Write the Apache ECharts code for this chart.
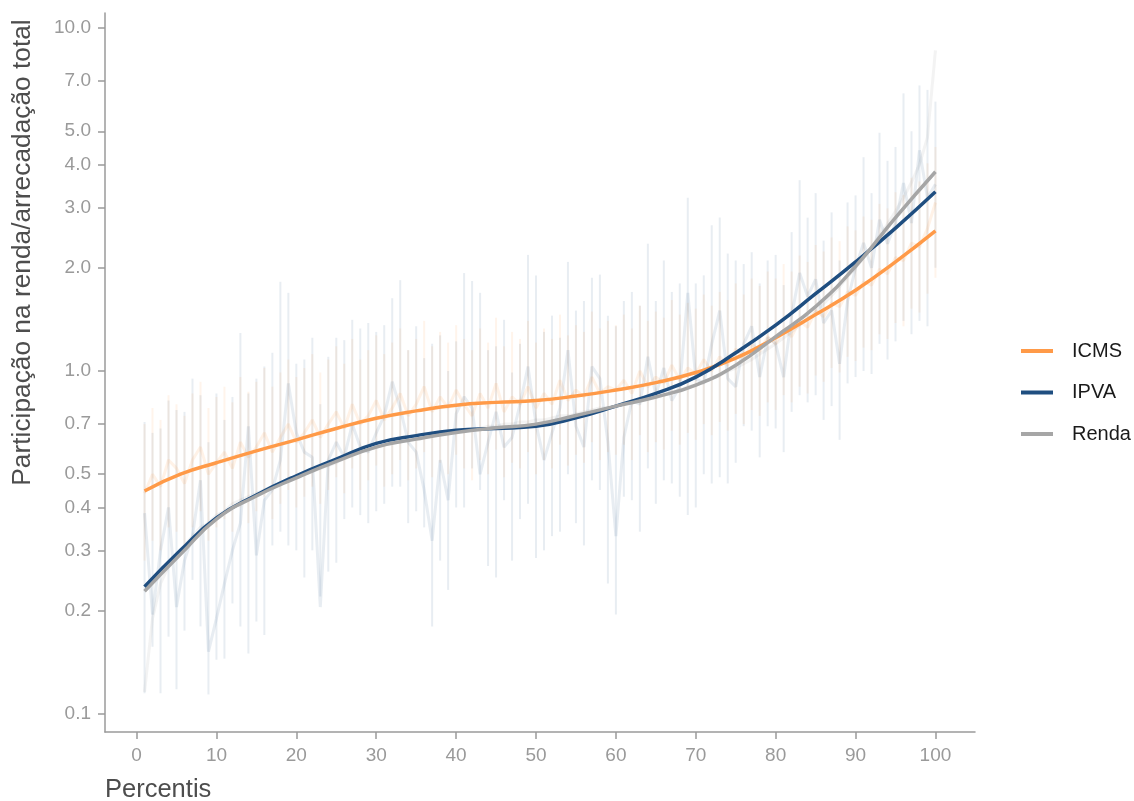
<!DOCTYPE html>
<html>
<head>
<meta charset="utf-8">
<script src="https://cdn.jsdelivr.net/npm/echarts@6/dist/echarts.min.js"></script>
<style>html,body{margin:0;padding:0;background:#fff;}#c{width:1134px;height:801px;}</style>
</head>
<body>
<div id="c"></div>
<script>
// ---- data ----
const PCT = Array.from({length:100},(_,i)=>i+1);
const SMOOTH_X = [1,5.5,10,15,20,25,30,35,40,45,50,55,60,65,70,75,80,85,90,95,100];
const ICMS_SMOOTH = [0.447,0.50,0.54,0.585,0.63,0.68,0.728,0.765,0.795,0.81,0.82,0.845,0.88,0.925,0.99,1.09,1.25,1.46,1.72,2.08,2.56];
const IPVA_SMOOTH = [0.235,0.30,0.373,0.435,0.495,0.553,0.615,0.648,0.672,0.68,0.69,0.73,0.79,0.86,0.96,1.13,1.36,1.68,2.08,2.61,3.33];
const RENDA_SMOOTH = [0.228,0.292,0.37,0.432,0.488,0.545,0.60,0.633,0.662,0.683,0.70,0.742,0.79,0.84,0.91,1.04,1.26,1.54,2.02,2.80,3.81];

const IPVA_RAW = [0.385,0.195,0.30,0.40,0.205,0.28,0.33,0.48,0.152,0.19,
0.24,0.30,0.36,0.69,0.29,0.42,0.45,0.55,0.92,0.66,
0.58,0.56,0.205,0.55,0.62,0.56,0.70,0.60,0.58,0.66,
0.74,0.93,0.78,0.62,0.58,0.45,0.32,0.55,0.42,0.75,
0.84,0.78,0.50,0.62,0.76,0.60,0.64,0.80,1.03,0.70,
0.55,0.66,0.78,1.15,0.69,0.60,1.03,0.95,0.62,0.33,
0.64,0.82,0.80,1.10,0.85,1.02,0.82,0.90,1.69,0.95,
0.92,1.20,1.50,0.95,0.90,1.20,1.35,0.96,1.25,1.20,
0.96,1.45,1.93,1.65,1.85,1.38,1.50,1.05,1.60,2.00,
2.36,2.00,2.76,2.35,2.70,3.53,2.70,4.40,3.20,3.50];

const ICMS_RAW = [0.44,0.50,0.46,0.55,0.52,0.47,0.55,0.60,0.50,0.54,
0.58,0.52,0.62,0.56,0.60,0.66,0.58,0.64,0.70,0.62,
0.66,0.72,0.64,0.70,0.76,0.68,0.80,0.70,0.74,0.82,
0.72,0.78,0.86,0.74,0.80,0.90,0.76,0.84,0.78,0.88,
0.80,0.74,0.86,0.78,0.92,0.76,0.84,0.80,0.90,0.78,
0.86,0.80,0.94,0.82,0.88,0.84,0.96,0.86,0.90,0.88,
0.94,0.86,1.00,0.90,0.96,0.92,1.04,0.94,1.02,0.98,
1.08,1.00,1.10,1.04,1.16,1.08,1.20,1.14,1.26,1.20,
1.32,1.26,1.40,1.34,1.50,1.44,1.58,1.54,1.70,1.66,
1.82,1.78,1.98,1.92,2.14,2.10,2.36,2.30,2.60,3.10];

const RENDA_RAW = [0.116,0.19,0.24,0.27,0.29,0.31,0.33,0.35,0.36,0.38,
0.39,0.41,0.42,0.43,0.44,0.45,0.46,0.47,0.48,0.49,
0.50,0.51,0.52,0.53,0.54,0.56,0.57,0.58,0.59,0.60,
0.61,0.62,0.62,0.63,0.64,0.64,0.65,0.66,0.66,0.67,
0.67,0.68,0.68,0.69,0.69,0.70,0.70,0.71,0.71,0.72,
0.72,0.73,0.74,0.74,0.75,0.76,0.77,0.78,0.78,0.79,
0.80,0.81,0.82,0.83,0.84,0.85,0.87,0.88,0.90,0.91,
0.93,0.95,0.97,1.00,1.02,1.05,1.08,1.12,1.16,1.20,
1.25,1.30,1.36,1.42,1.49,1.57,1.66,1.76,1.88,2.00,
2.14,2.30,2.48,2.68,2.92,3.20,3.55,4.00,4.80,8.60];

const IPVA_HI = [0.71,0.66,0.68,0.82,0.77,0.76,0.95,0.85,0.62,0.86,
0.72,0.84,1.29,0.86,0.95,1.03,1.13,1.82,1.69,1.05,
1.08,1.25,0.80,1.10,1.25,1.23,1.41,1.33,1.38,1.30,
1.36,1.63,1.84,1.15,1.35,1.09,1.20,1.27,1.00,1.22,
1.93,1.83,1.69,1.15,1.18,1.41,0.99,1.20,2.18,1.90,
1.30,1.45,1.25,2.08,1.50,1.60,1.87,1.91,1.45,1.35,
1.60,1.70,1.55,2.35,1.60,2.10,1.70,1.80,3.20,1.80,
1.90,2.66,2.80,2.20,2.10,2.05,2.22,1.80,2.10,2.18,
1.78,2.54,3.60,2.80,3.30,2.40,2.90,2.10,3.10,3.25,
4.20,3.30,4.95,4.10,4.50,6.45,5.00,6.80,6.60,6.10];

const IPVA_LO = [0.115,0.157,0.115,0.168,0.118,0.175,0.246,0.18,0.114,0.144,
0.145,0.21,0.18,0.15,0.186,0.17,0.31,0.34,0.31,0.30,
0.25,0.30,0.22,0.26,0.276,0.37,0.40,0.38,0.36,0.39,
0.41,0.46,0.46,0.36,0.39,0.35,0.18,0.28,0.23,0.40,
0.40,0.52,0.45,0.27,0.25,0.42,0.28,0.37,0.41,0.285,
0.30,0.33,0.34,0.50,0.36,0.31,0.48,0.45,0.24,0.195,
0.43,0.42,0.34,0.52,0.41,0.48,0.47,0.43,0.38,0.40,
0.50,0.47,0.49,0.47,0.54,0.69,0.67,0.56,0.69,0.68,
0.58,0.76,0.85,0.81,0.85,0.72,0.79,0.63,0.92,0.96,
1.00,0.98,1.20,1.08,1.22,1.40,1.28,1.40,1.35,2.00];

const ICMS_HI = [0.70,0.78,0.72,0.85,0.80,0.74,0.86,0.93,0.78,0.84,
0.90,0.81,0.96,0.87,0.93,1.02,0.90,0.99,1.08,0.96,
1.02,1.12,0.99,1.08,1.18,1.05,1.24,1.08,1.15,1.27,
1.12,1.21,1.33,1.15,1.24,1.40,1.18,1.30,1.21,1.36,
1.24,1.15,1.33,1.21,1.43,1.18,1.30,1.24,1.40,1.21,
1.33,1.24,1.46,1.27,1.36,1.30,1.49,1.33,1.40,1.36,
1.46,1.33,1.55,1.40,1.49,1.43,1.61,1.46,1.58,1.52,
1.67,1.55,1.70,1.61,1.80,1.67,1.86,1.77,1.95,1.86,
2.05,1.95,2.17,2.08,2.33,2.23,2.45,2.39,2.64,2.57,
2.82,2.76,3.07,2.98,3.32,3.26,3.66,3.57,4.03,4.50];

const ICMS_LO = [0.28,0.32,0.30,0.35,0.34,0.30,0.35,0.39,0.32,0.35,
0.37,0.34,0.40,0.36,0.39,0.43,0.37,0.41,0.45,0.40,
0.43,0.46,0.41,0.45,0.49,0.44,0.52,0.45,0.48,0.53,
0.46,0.50,0.55,0.48,0.52,0.58,0.49,0.54,0.50,0.57,
0.52,0.48,0.55,0.50,0.59,0.49,0.54,0.52,0.58,0.50,
0.55,0.52,0.61,0.53,0.57,0.54,0.62,0.55,0.58,0.57,
0.61,0.55,0.65,0.58,0.62,0.59,0.67,0.61,0.66,0.63,
0.70,0.65,0.71,0.67,0.75,0.70,0.77,0.74,0.81,0.77,
0.85,0.81,0.90,0.86,0.97,0.93,1.02,0.99,1.10,1.07,
1.17,1.15,1.28,1.24,1.38,1.35,1.52,1.48,1.68,1.87];

const Y_TICKS = [0.1,0.2,0.3,0.4,0.5,0.7,1,2,3,4,5,7,10];
const X_TICKS = [0,10,20,30,40,50,60,70,80,90,100];
const Y_TITLE = 'Participação na renda/arrecadação total';
const X_TITLE = 'Percentis';

// ---- chart ----
const C_ICMS = '#FF9A48', C_IPVA = '#1F4E80', C_RENDA = '#A6A6A6';
const FONT = 'Liberation Sans, Arial, sans-serif';

function pairs(xs, ys){ return xs.map((x,i)=>[x, ys[i]]); }
function bars(name, lo, hi, color){
  return {
    name: name, type:'custom', silent:true, z:1,
    data: PCT.map((p,i)=>[p, lo[i], hi[i]]),
    encode:{x:0, y:[1,2]},
    renderItem: function(params, api){
      const a = api.coord([api.value(0), api.value(1)]);
      const b = api.coord([api.value(0), api.value(2)]);
      return {type:'line', shape:{x1:a[0],y1:a[1],x2:b[0],y2:b[1]}, style:{stroke:color, lineWidth:2}};
    }
  };
}
function rawLine(name, ys, color){
  return {name:name, type:'line', data:pairs(PCT, ys), symbol:'none', silent:true, z:2,
    lineStyle:{color:color, width:3}, itemStyle:{color:color}};
}
function smoothLine(name, ys, color, z){
  return {name:name, type:'line', data:pairs(SMOOTH_X, ys), symbol:'none', smooth:0.5, z:z,
    lineStyle:{color:color, width:3.5}, itemStyle:{color:color}};
}

const chart = echarts.init(document.getElementById('c'), null, {renderer:'canvas'});
chart.setOption({
  animation:false,
  backgroundColor:'#ffffff',
  textStyle:{fontFamily:FONT},
  title:{text:X_TITLE, left:105, top:777, padding:0,
    textStyle:{fontSize:25.5, fontWeight:'normal', color:'#4d4d4d', fontFamily:FONT}},
  graphic:[{
    type:'text', x:23, y:252.5, rotation:Math.PI/2, silent:true,
    style:{text:Y_TITLE, fontSize:26.3, fill:'#4d4d4d', fontFamily:FONT, align:'center', verticalAlign:'middle'}
  }],
  legend:{
    orient:'vertical', left:1021, top:341, padding:0, itemWidth:32, itemHeight:4, itemGap:21.5,
    icon:'rect', data:['ICMS','IPVA','Renda'],
    textStyle:{fontSize:20, color:'#1a1a1a', lineHeight:20, padding:[0,0,0,14], fontFamily:FONT}
  },
  grid:{left:105, right:159, top:13, bottom:69, containLabel:false},
  xAxis:{
    type:'value', min:-3.95, max:104.95,
    axisLine:{show:true, onZero:false, lineStyle:{color:'#9a9a9a', width:1.5}},
    axisTick:{show:true, customValues:X_TICKS, length:7, lineStyle:{color:'#9a9a9a', width:1.5}},
    axisLabel:{customValues:X_TICKS, color:'#9a9a9a', fontSize:19, margin:14, fontFamily:FONT},
    splitLine:{show:false}
  },
  yAxis:{
    type:'log', logBase:10, min:0.0886, max:11.06,
    axisLine:{show:true, onZero:false, lineStyle:{color:'#9a9a9a', width:1.5}},
    axisTick:{show:true, customValues:Y_TICKS, length:7, lineStyle:{color:'#9a9a9a', width:1.5}},
    axisLabel:{customValues:Y_TICKS, color:'#9a9a9a', fontSize:19, margin:14, fontFamily:FONT,
      formatter:function(v){ return Number(v).toFixed(1); }},
    splitLine:{show:false}
  },
  series:[
    bars('IPVA_bars', IPVA_LO, IPVA_HI, 'rgba(31,78,128,0.10)'),
    bars('ICMS_bars', ICMS_LO, ICMS_HI, 'rgba(255,154,72,0.11)'),
    rawLine('Renda_raw', RENDA_RAW, 'rgba(166,166,166,0.13)'),
    rawLine('ICMS_raw', ICMS_RAW, 'rgba(255,154,72,0.13)'),
    rawLine('IPVA_raw', IPVA_RAW, 'rgba(31,78,128,0.10)'),
    smoothLine('ICMS', ICMS_SMOOTH, C_ICMS, 5),
    smoothLine('IPVA', IPVA_SMOOTH, C_IPVA, 6),
    smoothLine('Renda', RENDA_SMOOTH, C_RENDA, 7)
  ]
});
</script>
</body>
</html>
